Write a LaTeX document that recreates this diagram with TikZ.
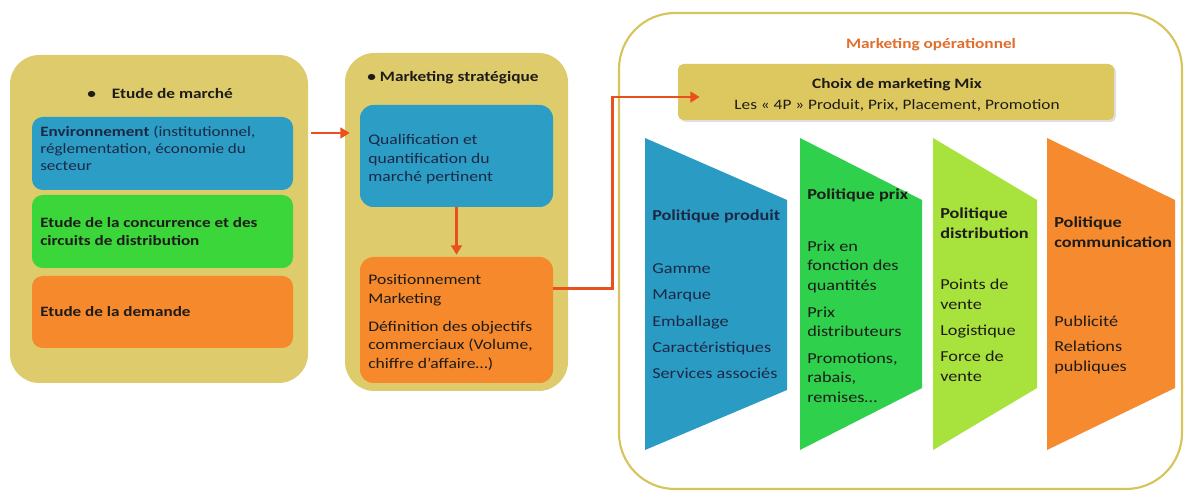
\documentclass[tikz,border=0pt]{standalone}
\usepackage{fontspec}
\setmainfont{Carlito}[FakeStretch=1.2]
\usetikzlibrary{fit,calc,arrows.meta,shadows}
\definecolor{khaki}{RGB}{222,203,108}
\definecolor{khakiline}{RGB}{214,196,92}
\definecolor{bblue}{RGB}{44,158,198}
\definecolor{bgreen}{RGB}{58,214,58}
\definecolor{borange}{RGB}{245,137,44}
\definecolor{tblue}{RGB}{42,156,196}
\definecolor{tgreen}{RGB}{46,208,76}
\definecolor{tlime}{RGB}{168,226,60}
\definecolor{torange}{RGB}{245,138,46}
\definecolor{arrcol}{RGB}{232,80,30}
\definecolor{navy}{RGB}{28,40,70}
\definecolor{dtext}{RGB}{30,28,25}
\definecolor{optitle}{RGB}{226,110,45}
\definecolor{choixfill}{RGB}{221,200,96}
\newcommand{\topstrut}{\rule{0pt}{0.9em}}
\tikzset{
  box/.style={inner sep=0pt, rounded corners=#1},
  txt/.style={inner sep=0pt, align=left, text=dtext},
  ltxt/.style={txt, font=\fontsize{10.7}{12.6}\selectfont, anchor=north west, execute at begin node=\topstrut},
  mtxt/.style={txt, font=\fontsize{11}{14}\selectfont, anchor=north west, execute at begin node=\topstrut},
  ttxt/.style={txt, font=\fontsize{11.4}{14.6}\selectfont, anchor=north west, execute at begin node=\topstrut},
  ttl/.style={txt, font=\fontsize{10.8}{13}\selectfont\bfseries, anchor=center},
  arr/.style={draw=arrcol, line width=2pt, -{Triangle[length=7pt,width=8pt]}},
}
\begin{document}
\begin{tikzpicture}[x=0.75pt,y=-0.75pt]
\useasboundingbox (0,0) rectangle (1186,495);
% ---------- left block
\node[box=22pt, fill=khaki, fit={(10,55)(308,383)}] (etude) {};
\node[ttl] (etudet) at (160,94) {\textbullet\hspace{12pt}Etude de marché};
\node[box=8pt, fill=bblue, fit={(32,117)(293,190)}] (env) {};
\node[box=8pt, fill=bgreen, fit={(32,195)(293,268)}] (conc) {};
\node[box=8pt, fill=borange, fit={(32,276)(293,348)}] (dem) {};
\node[ltxt, text=navy] (envt) at (40,126) {\textbf{Environnement} (institutionnel,\\réglementation, économie du\\secteur};
\node[ltxt, font=\fontsize{10.7}{13.5}\selectfont\bfseries] (conct) at (40,217) {Etude de la concurrence et des\\circuits de distribution};
\node[txt, font=\fontsize{10.7}{13}\selectfont\bfseries, anchor=base west] (demt) at (40,317) {Etude de la demande};
% ---------- middle block
\node[box=22pt, fill=khaki, fit={(345,53)(568,391)}] (strat) {};
\node[ttl] (stratt) at (453,78) {\textbullet\ Marketing stratégique};
\node[box=10pt, fill=bblue, fit={(360,105)(553,207)}] (qual) {};
\node[box=10pt, fill=borange, fit={(360,257)(553,383)}] (pos) {};
\node[mtxt, text=navy] (qualt) at (368,134) {Qualification et\\quantification du\\marché pertinent};
\node[mtxt] (post) at (368,274) {Positionnement\\Marketing\\[7pt]Définition des objectifs\\commerciaux (Volume,\\chiffre d’affaire…)};
% ---------- right block
\node[box=42pt, draw=khakiline, line width=1.6pt, fill=white, fit={(619,13)(1182,489)}] (oper) {};
\node[ttl, text=optitle] (opert) at (931,45) {Marketing opérationnel};
\node[box=4pt, fill=choixfill, drop shadow={opacity=0.25, shadow xshift=1.5pt, shadow yshift=-1.5pt}, fit={(678,64)(1114,120)}] (choix) {};
\node[txt, align=center, font=\fontsize{10.8}{16}\selectfont, anchor=center] (choixt) at (897,95) {\textbf{Choix de marketing Mix}\\Les « 4P » Produit, Prix, Placement, Promotion};
% trapezoids
\fill[tblue] (645,138) coordinate (p1a) -- (787,200) -- (787,390) -- (645,450) -- cycle;
\fill[tgreen] (800,138) coordinate (p2a) -- (922,200) -- (922,388) -- (800,450) -- cycle;
\fill[tlime] (933,138) coordinate (p3a) -- (1037,200) -- (1037,388) -- (933,450) -- cycle;
\fill[torange] (1047,138) coordinate (p4a) -- (1175,200) -- (1175,388) -- (1047,450) -- cycle;
\node[ttxt, text=navy] (prod) at (652,210) {\textbf{Politique produit}\\[25pt]Gamme\\[5pt]Marque\\[5pt]Emballage\\[5pt]Caractéristiques\\[5pt]Services associés};
\node[ttxt] (prix) at (807,189) {\textbf{Politique prix}\\[24pt]Prix en\\fonction des\\quantités\\[5.5pt]Prix\\distributeurs\\[5.5pt]Promotions,\\rabais,\\remises…};
\node[ttxt] (dist) at (940,208) {\textbf{Politique}\\\textbf{distribution}\\[24pt]Points de\\vente\\[5pt]Logistique\\[5pt]Force de\\vente};
\node[ttxt] (comm) at (1054,217) {\textbf{Politique}\\\textbf{communication}\\[45pt]Publicité\\[4pt]Relations\\publiques};
% ---------- connectors
\coordinate (a1s) at ($(etude.east |- qual.west)+(3,-23)$);
\coordinate (a1e) at ($(qual.west)+(-10,-23)$);
\draw[arr] (a1s) -- (a1e);
\draw[arr] (qual.south) -- ($(pos.north)+(0,-2)$);
\coordinate (a3s) at ($(pos.north east)!0.25!(pos.south east)$);
\coordinate (a3e) at ($(choix.west)+(22,5)$);
\draw[arr] (a3s) -| ($(a3e)+(-87,0)$) -- (a3e);
\end{tikzpicture}
\end{document}
